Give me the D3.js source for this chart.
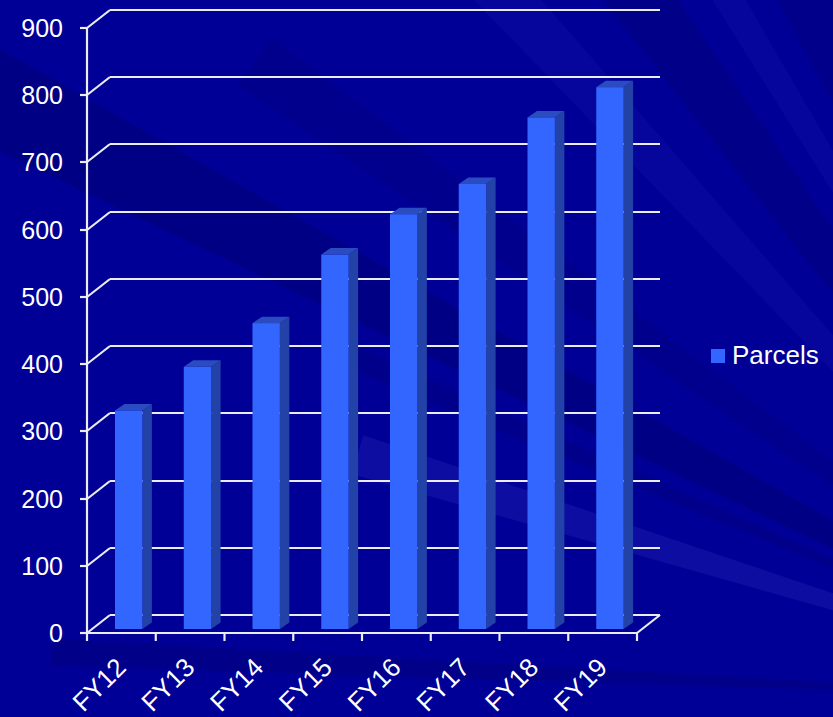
<!DOCTYPE html>
<html>
<head>
<meta charset="utf-8">
<script src="https://cdn.jsdelivr.net/npm/d3@7"></script>
<style>
  body { margin: 0; background: #000096; }
  text { font-family: "Liberation Sans", Arial, sans-serif; fill: #ffffff; }
</style>
</head>
<body>
<div id="chart"></div>
<script>
// values
var categories = ["FY12", "FY13", "FY14", "FY15", "FY16", "FY17", "FY18", "FY19"];
var parcels = [325, 390, 455, 557, 617, 662, 761, 806];
var yTickValues = [0, 100, 200, 300, 400, 500, 600, 700, 800, 900];
var seriesName = "Parcels";

// background rays: [from angle, to angle, length, colour, opacity]
var rays = [
  [1.8, 3.2, 1100, "#000060", 0.25],
  [15.8, 18.6, 830, "#5050e8", 0.16],
  [22.5, 24, 900, "#000060", 0.2],
  [25.5, 29.5, 1400, "#000060", 0.32],
  [34, 37, 1100, "#000060", 0.15],
  [46, 49, 1000, "#3030d0", 0.12],
  [52, 56, 1000, "#000060", 0.25],
  [58, 60, 1000, "#3030d0", 0.12],
  [62, 67, 1000, "#000060", 0.2]
];

var W = 833, H = 717;
var DX = 23, DY = -18;          // depth of the plot box
var BDX = 9.5, BDY = -6.5;      // depth of a bar

var svg = d3.select("#chart").append("svg")
    .attr("width", W).attr("height", H);

svg.append("rect").attr("width", W).attr("height", H).attr("fill", "#000096");

// rays come from a point off to the lower right
var focus = [1150, 700];
svg.append("g").selectAll("polygon").data(rays).enter()
  .append("polygon")
    .attr("points", function(d){
      var a0 = d[0]*Math.PI/180, a1 = d[1]*Math.PI/180, R = d[2];
      return [focus,
        [focus[0]-R*Math.cos(a0), focus[1]-R*Math.sin(a0)],
        [focus[0]-R*Math.cos(a1), focus[1]-R*Math.sin(a1)]].join(" ");
    })
    .attr("fill", function(d){ return d[3]; })
    .attr("opacity", function(d){ return d[4]; });

var x = d3.scaleBand().domain(categories).range([87, 637]);
var y = d3.scaleLinear().domain([0, 900]).range([633, 28]);
var x0 = x.range()[0], x1 = x.range()[1];
var ry = function(v){ return Math.round(y(v)); };

var grid = svg.append("g")
    .attr("stroke", "#ececf4").attr("stroke-width", 2.2).attr("fill", "none");

// back wall gridlines
grid.selectAll(".back").data(yTickValues).enter()
  .append("line")
    .attr("x1", x0 + DX).attr("x2", x1 + DX)
    .attr("y1", function(d){ return ry(d) + DY; })
    .attr("y2", function(d){ return ry(d) + DY; });

// side wall gridlines
grid.selectAll(".side").data(yTickValues).enter()
  .append("line")
    .attr("x1", x0).attr("x2", x0 + DX)
    .attr("y1", function(d){ return ry(d); })
    .attr("y2", function(d){ return ry(d) + DY; });

// axis line, floor front edge and right floor edge
grid.append("line").attr("x1", x0).attr("x2", x0).attr("y1", ry(0)).attr("y2", ry(900));
grid.append("line").attr("x1", x0).attr("x2", x1).attr("y1", ry(0)).attr("y2", ry(0));
grid.append("line").attr("x1", x1).attr("x2", x1 + DX).attr("y1", ry(0)).attr("y2", ry(0) + DY);

// y ticks
grid.selectAll(".ytick").data(yTickValues).enter()
  .append("line")
    .attr("x1", x0 - 7).attr("x2", x0)
    .attr("y1", function(d){ return ry(d); })
    .attr("y2", function(d){ return ry(d); });

// category ticks
grid.selectAll(".xtick").data(categories.concat(["end"])).enter()
  .append("line")
    .attr("x1", function(d, i){ return x0 + i*x.bandwidth(); })
    .attr("x2", function(d, i){ return x0 + i*x.bandwidth(); })
    .attr("y1", ry(0)).attr("y2", ry(0) + 8);

svg.append("g").selectAll("text").data(yTickValues).enter()
  .append("text")
    .attr("x", 63).attr("y", function(d){ return y(d); })
    .attr("dy", "0.36em")
    .attr("text-anchor", "end")
    .style("font-size", "25px")
    .text(function(d){ return d; });

svg.append("g").selectAll("text").data(categories).enter()
  .append("text")
    .attr("transform", function(d){
      return "translate(" + (x(d) + x.bandwidth()/2 + 6) + ",669) rotate(-45)";
    })
    .attr("text-anchor", "end")
    .style("font-size", "26px")
    .text(function(d){ return d; });

// bars
var bw = x.bandwidth()*0.398;
var bars = svg.append("g").selectAll("g").data(parcels).enter().append("g");

function barGeom(d, i){
  var xl = x(categories[i]) + 28, xr = xl + bw;
  var yt = y(d) - 4, yb = y(0) - 4;
  return {xl: xl, xr: xr, yt: yt, yb: yb};
}

bars.append("polygon")
    .attr("fill", "#2342a8")
    .attr("points", function(d, i){
      var g = barGeom(d, i);
      return [[g.xr, g.yt], [g.xr + BDX, g.yt + BDY], [g.xr + BDX, g.yb + BDY], [g.xr, g.yb]].join(" ");
    });
bars.append("polygon")
    .attr("fill", "#2a4cc0")
    .attr("points", function(d, i){
      var g = barGeom(d, i);
      return [[g.xl, g.yt], [g.xl + BDX, g.yt + BDY], [g.xr + BDX, g.yt + BDY], [g.xr, g.yt]].join(" ");
    });
bars.append("rect")
    .attr("fill", "#3366ff")
    .attr("x", function(d, i){ return barGeom(d, i).xl; })
    .attr("y", function(d, i){ return barGeom(d, i).yt; })
    .attr("width", bw)
    .attr("height", function(d, i){ var g = barGeom(d, i); return g.yb - g.yt; });

// legend
var legend = svg.append("g").attr("transform", "translate(711,349)");
legend.append("rect").attr("width", 14).attr("height", 14).attr("fill", "#3366ff");
legend.append("text").attr("x", 21).attr("y", 15)
    .style("font-size", "26px").text(seriesName);
</script>
</body>
</html>
